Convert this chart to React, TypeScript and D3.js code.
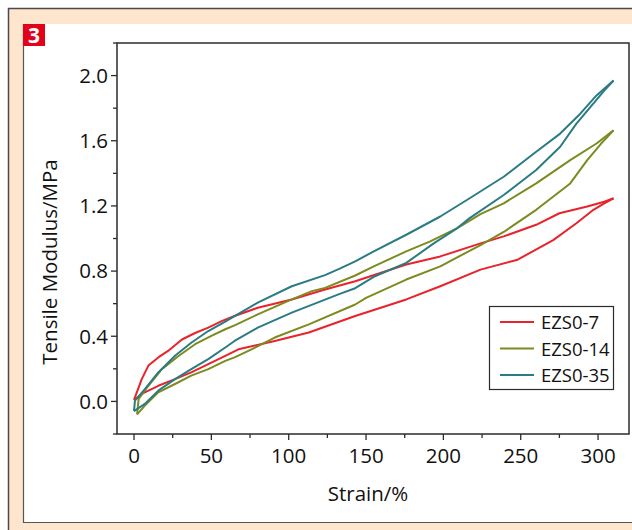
import React from "react";
import * as d3 from "d3";

// Strain (%) values and tensile modulus (MPa)
const redUpStrain = [0, 5, 9.3, 15.7, 22, 31, 39.5, 48, 57, 65, 80, 102, 123.5, 143, 176, 198, 224, 239, 260, 275, 293, 304, 310];
const redUpMod = [0.01, 0.137, 0.22, 0.27, 0.31, 0.38, 0.42, 0.453, 0.494, 0.524, 0.575, 0.626, 0.687, 0.738, 0.84, 0.89, 0.97, 1.013, 1.084, 1.155, 1.196, 1.226, 1.247];
const redLoStrain = [0, 7, 15.7, 26.5, 37, 48, 59, 67.5, 91, 113, 143, 176, 198, 224, 248, 271, 286, 297, 304, 310];
const redLoMod = [0.01, 0.056, 0.096, 0.137, 0.178, 0.229, 0.28, 0.32, 0.371, 0.423, 0.524, 0.626, 0.707, 0.809, 0.87, 0.99, 1.094, 1.176, 1.216, 1.247];

const oliveUpStrain = [2, 3, 9.3, 18, 29, 39.5, 50, 59, 65, 80, 102, 115, 123.5, 143, 155, 176, 191.5, 209, 224, 239, 260, 282, 299, 310];
const oliveUpMod = [-0.08, 0.015, 0.096, 0.198, 0.28, 0.351, 0.402, 0.443, 0.467, 0.534, 0.626, 0.677, 0.697, 0.773, 0.829, 0.921, 0.982, 1.064, 1.15, 1.216, 1.338, 1.481, 1.583, 1.664];
const oliveLoStrain = [2, 7, 15.7, 26.5, 37, 48, 59, 65, 76, 91, 113, 143, 150, 176, 198, 224, 239, 260, 282, 293, 302, 310];
const oliveLoMod = [-0.08, -0.026, 0.056, 0.107, 0.158, 0.198, 0.249, 0.27, 0.32, 0.392, 0.473, 0.595, 0.636, 0.748, 0.829, 0.96, 1.04, 1.176, 1.338, 1.481, 1.583, 1.664];

const tealUpStrain = [0, 0.6, 7, 15.7, 26.5, 37, 48, 59, 65, 80, 102, 123.5, 133, 143, 155, 176, 198, 217, 239, 260, 275.5, 288.5, 299, 310];
const tealUpMod = [-0.06, 0.005, 0.076, 0.178, 0.28, 0.36, 0.432, 0.49, 0.524, 0.606, 0.707, 0.775, 0.815, 0.86, 0.921, 1.023, 1.135, 1.247, 1.379, 1.532, 1.644, 1.766, 1.878, 1.97];
const tealLoStrain = [0, 7, 15.7, 26.5, 37, 48, 59, 65, 80, 102, 123.5, 133, 143, 155, 176, 194, 209, 217, 239, 260, 275.5, 286, 295, 304, 310];
const tealLoMod = [-0.06, -0.015, 0.066, 0.137, 0.198, 0.26, 0.331, 0.371, 0.453, 0.545, 0.625, 0.66, 0.695, 0.765, 0.85, 0.972, 1.064, 1.125, 1.267, 1.42, 1.563, 1.705, 1.806, 1.908, 1.97];

const seriesNames = ["EZS0-7", "EZS0-14", "EZS0-35"];
const seriesColors = ["#e8232b", "#7d8a1f", "#2a7c83"];

const xTicks = [0, 50, 100, 150, 200, 250, 300];
const xMinor = [25, 75, 125, 175, 225, 275];
const yTicks = [0.0, 0.4, 0.8, 1.2, 1.6, 2.0];
const yMinor = [-0.2, 0.2, 0.6, 1.0, 1.4, 1.8, 2.2];

const FONT = "'Open Sans', 'Noto Sans', sans-serif";
const FS = 20.5;

function zip(xs: number[], ys: number[]): [number, number][] {
  return xs.map((x, i) => [x, ys[i]] as [number, number]);
}

export default function App() {
  const W = 632, H = 530;
  const left = 117, right = 629, top = 43, bottom = 434;
  const x = d3.scaleLinear().domain([-11, 320]).range([left, right]);
  const y = d3.scaleLinear().domain([-0.2, 2.2]).range([bottom, top]);
  const line = d3.line<[number, number]>().x(d => x(d[0])).y(d => y(d[1]));

  const loops = [
    { up: zip(redUpStrain, redUpMod), lo: zip(redLoStrain, redLoMod) },
    { up: zip(oliveUpStrain, oliveUpMod), lo: zip(oliveLoStrain, oliveLoMod) },
    { up: zip(tealUpStrain, tealUpMod), lo: zip(tealLoStrain, tealLoMod) },
  ];

  const axisColor = "#2b2b2b";

  return (
    <div style={{ position: "absolute", left: 0, top: 0 }}>
      <svg width={W} height={H} style={{ display: "block" }}>
        <rect x={0} y={0} width={W} height={H} fill="#ffffff" />
        <rect x={8.5} y={8.5} width={W} height={H} fill="#fde6cd" stroke="#4a4a4a" strokeWidth={1.5} />
        <rect x={23} y={24} width={W} height={499} fill="#ffffff" />
        <line x1={23.5} y1={24} x2={23.5} y2={523} stroke="#555" strokeWidth={1.2} />
        <line x1={23} y1={522.5} x2={W} y2={522.5} stroke="#555" strokeWidth={1.2} />
        <rect x={23} y={24} width={22} height={22} fill="#e2001a" />
        <text x={34} y={43} textAnchor="middle" fill="#fff" fontFamily={FONT} fontWeight={700} fontSize={21}>3</text>

        {loops.map((l, i) => (
          <g key={i}>
            <path d={line(l.up) || ""} fill="none" stroke={seriesColors[i]} strokeWidth={2} strokeLinejoin="round" />
            <path d={line(l.lo) || ""} fill="none" stroke={seriesColors[i]} strokeWidth={2} strokeLinejoin="round" />
          </g>
        ))}

        {/* frame */}
        <rect x={left} y={top} width={right - left} height={bottom - top} fill="none" stroke={axisColor} strokeWidth={1.5} />

        {/* x ticks */}
        {xTicks.map(t => (
          <g key={"x" + t}>
            <line x1={x(t)} x2={x(t)} y1={bottom} y2={bottom + 6} stroke={axisColor} strokeWidth={1.3} />
            <text x={x(t)} y={462.5} textAnchor="middle" fontFamily={FONT} fontSize={FS} fill="#111">{t}</text>
          </g>
        ))}
        {xMinor.map(t => (
          <line key={"xm" + t} x1={x(t)} x2={x(t)} y1={bottom} y2={bottom + 4} stroke={axisColor} strokeWidth={1.3} />
        ))}
        {/* y ticks */}
        {yTicks.map(t => (
          <g key={"y" + t}>
            <line x1={left - 6} x2={left} y1={y(t)} y2={y(t)} stroke={axisColor} strokeWidth={1.3} />
            <text x={108} y={y(t) + 7.3} textAnchor="end" fontFamily={FONT} fontSize={FS} fill="#111">{t.toFixed(1)}</text>
          </g>
        ))}
        {yMinor.map(t => (
          <line key={"ym" + t} x1={left - 4} x2={left} y1={y(t)} y2={y(t)} stroke={axisColor} strokeWidth={1.3} />
        ))}

        <text x={368} y={501} textAnchor="middle" fontFamily={FONT} fontSize={FS} fill="#111">Strain/%</text>
        <text transform={`translate(57,262) rotate(-90)`} textAnchor="middle" fontFamily={FONT} fontSize={FS} fill="#111">Tensile Modulus/MPa</text>

        {/* legend */}
        <rect x={489.5} y={306.5} width={124} height={83} fill="#fff" stroke={axisColor} strokeWidth={1.2} />
        {seriesNames.map((n, i) => (
          <g key={n}>
            <line x1={500} x2={534} y1={322 + i * 26.5} y2={322 + i * 26.5} stroke={seriesColors[i]} strokeWidth={2} />
            <text x={541} y={322 + i * 26.5 + 7} fontFamily={FONT} fontSize={18.5} fill="#111">{n}</text>
          </g>
        ))}
      </svg>
    </div>
  );
}
